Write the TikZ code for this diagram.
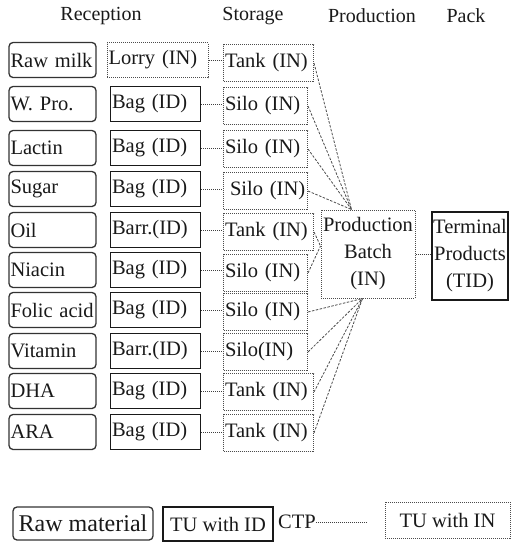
\documentclass[tikz,border=0pt]{standalone}
\usepackage{fontspec}
\setmainfont{Liberation Serif}
\begin{document}
\begin{tikzpicture}[x=1pt,y=-1pt,
  every node/.style={font=\fontsize{20.5}{27}\selectfont, text=black!90},
  header/.style={inner sep=0pt, font=\fontsize{20}{22}\selectfont},
  material/.style={draw=black!80, line width=1.3pt, rounded corners=4pt,
    minimum height=35pt, text width=84pt, align=left, inner xsep=1.5pt, inner ysep=0pt},
  unitid/.style={draw=black!90, line width=1.8pt,
    minimum height=35pt, text width=87pt, align=left, inner xsep=1.5pt, inner ysep=0pt},
  unitin/.style={draw=black!70, line width=1pt, dash pattern=on 1pt off 1pt,
    minimum height=37pt, align=left, inner xsep=1.5pt, inner ysep=0pt},
  tankbox/.style={unitin, text width=87pt, anchor=west},
  silobox/.style={unitin, text width=81pt, anchor=west},
  link/.style={draw=black!75, line width=0.8pt, dash pattern=on 1pt off 1pt},
  feed/.style={draw=black!70, line width=0.8pt, dash pattern=on 2.5pt off 1.5pt}]

\useasboundingbox (0,0) rectangle (512,542);

% column headers
\node[header] (hrec) at (101,16) {Reception};
\node[header] (hsto) at (253,16) {Storage};
\node[header] (hpro) at (372,16) {Production};
\node[header] (hpac) at (466,16) {Pack};

% raw materials
\node[material] (m1)  at (52.5,60)  {Raw milk};
\node[material] (m2)  at (52.5,104) {W. Pro.};
\node[material] (m3)  at (52.5,148) {Lactin};
\node[material] (m4)  at (52.5,189) {Sugar};
\node[material] (m5)  at (52.5,230) {Oil};
\node[material] (m6)  at (52.5,270) {Niacin};
\node[material] (m7)  at (52.5,310) {Folic acid};
\node[material] (m8)  at (52.5,351) {Vitamin};
\node[material] (m9)  at (52.5,391) {DHA};
\node[material] (m10) at (52.5,432) {ARA};

% transport units at reception
\node[unitin, text width=98pt, minimum height=35pt] (c1) at (157.5,60) {Lorry (IN)};
\node[unitid] (c2)  at (155.5,104) {Bag (ID)};
\node[unitid] (c3)  at (155.5,148) {Bag (ID)};
\node[unitid] (c4)  at (155.5,189) {Bag (ID)};
\node[unitid] (c5)  at (155.5,230) {Barr.(ID)};
\node[unitid] (c6)  at (155.5,270) {Bag (ID)};
\node[unitid] (c7)  at (155.5,310) {Bag (ID)};
\node[unitid] (c8)  at (155.5,351) {Barr.(ID)};
\node[unitid] (c9)  at (155.5,391) {Bag (ID)};
\node[unitid] (c10) at (155.5,432) {Bag (ID)};

% storage units
\node[tankbox] (s1)  at (223,63)  {Tank (IN)};
\node[silobox] (s2)  at (223,106) {Silo (IN)};
\node[silobox] (s3)  at (223,149) {Silo (IN)};
\node[silobox] (s4)  at (223,191) {\hspace{5pt}Silo (IN)};
\node[tankbox] (s5)  at (223,232) {Tank (IN)};
\node[silobox] (s6)  at (223,273) {Silo (IN)};
\node[silobox] (s7)  at (223,312) {Silo (IN)};
\node[silobox] (s8)  at (223,352) {Silo(IN)};
\node[tankbox] (s9)  at (223,392) {Tank (IN)};
\node[tankbox] (s10) at (223,433) {Tank (IN)};

% production and packing
\node[unitin, minimum width=94pt, minimum height=88pt, align=center, inner xsep=1pt]
  (prod) at (368,254) {Production\\Batch\\(IN)};
\node[draw=black!90, line width=1.8pt, minimum width=76pt, minimum height=88pt,
  align=center, inner xsep=0.5pt] (term) at (470,256) {Terminal\\Products\\(TID)};

% reception to storage
\foreach \i in {1,...,10}
  \draw[link] (c\i.east) -- (c\i.east -| s\i.west);

% storage to production batch
\coordinate (ptop) at ([xshift=31pt]prod.north west);
\coordinate (pleft) at ([yshift=8pt]prod.west);
\coordinate (pbot) at ([xshift=42pt]prod.south west);
\foreach \i in {1,2,3,4}
  \draw[feed] (s\i.east) -- (ptop);
\foreach \i in {5,6}
  \draw[feed] (s\i.east) -- (pleft);
\foreach \i in {7,8,9,10}
  \draw[feed] (s\i.east) -- (pbot);

% production batch to terminal products
\draw[link] (prod.east) -- (prod.east -| term.west);

% legend
\node[draw=black!80, line width=1.3pt, rounded corners=4pt, minimum width=140pt,
  minimum height=33pt, inner xsep=2pt, font=\fontsize{24}{26}\selectfont] (lraw) at (83,523.5) {Raw material};
\node[draw=black!90, line width=1.8pt, minimum width=110pt, minimum height=34pt] (lid) at (218,524) {TU with ID};
\node[inner sep=0pt] (lctp) at (297,522) {CTP};
\coordinate (lend) at (367,522);
\draw[link] (lctp.east) -- (lend);
\node[draw=black!70, line width=1pt, dash pattern=on 1pt off 1pt, minimum width=125pt,
  minimum height=36pt] (lin) at (447.5,520) {TU with IN};
\end{tikzpicture}
\end{document}
